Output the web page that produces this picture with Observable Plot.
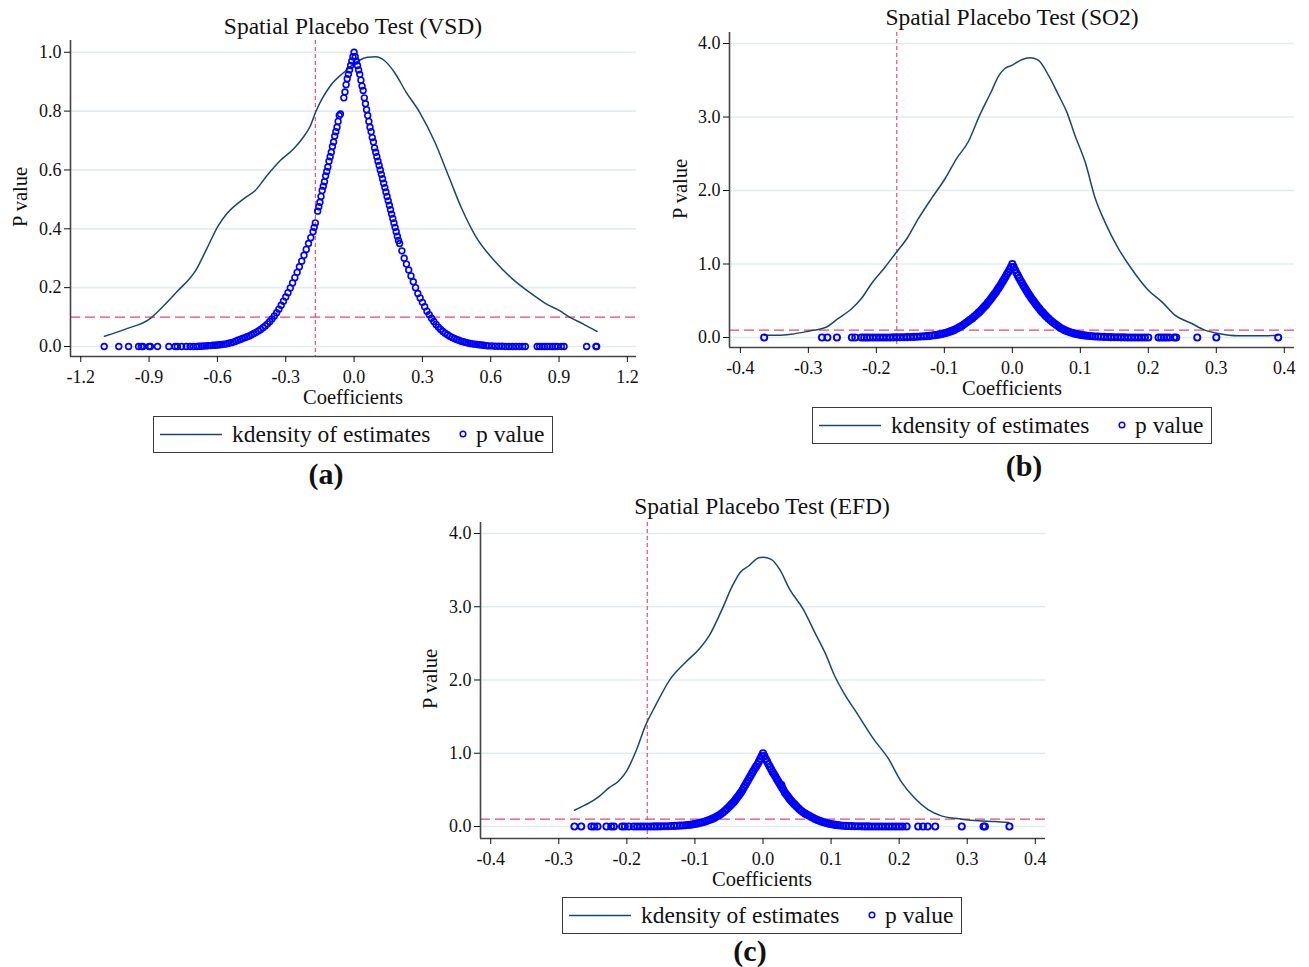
<!DOCTYPE html>
<html><head><meta charset="utf-8">
<script src="https://cdn.jsdelivr.net/npm/d3@7"></script>
<script src="https://cdn.jsdelivr.net/npm/@observablehq/plot@0.6"></script>
<style>
body{margin:0;background:#fff;font-family:"Liberation Serif","Times New Roman",serif;color:#111;}
#page{position:relative;width:1309px;height:967px;overflow:hidden;background:#fff;}
.ctext{position:absolute;text-align:center;white-space:nowrap;width:600px;}
.rot{position:absolute;white-space:nowrap;transform:translate(-50%,-50%) rotate(-90deg);font-size:20.5px;line-height:21px;}
.legend{position:absolute;box-sizing:border-box;width:400px;height:37px;border:1.5px solid #3a3a3a;background:#fff;}
.legend span{position:absolute;top:4px;font-size:23.5px;line-height:26px;white-space:nowrap;}
.legend svg{position:absolute;left:0;top:0;}
</style></head>
<body><div id="page"></div>
<script>
// ---------- data ----------
const titles = ["Spatial Placebo Test (VSD)", "Spatial Placebo Test (SO2)", "Spatial Placebo Test (EFD)"];
const captions = ["(a)", "(b)", "(c)"];
const legendLabels = ["kdensity of estimates", "p value"];
const xLabel = "Coefficients";
const yLabel = "P value";

const vsdTicksX = [-1.2, -0.9, -0.6, -0.3, 0, 0.3, 0.6, 0.9, 1.2];
const vsdTicksY = [0, 0.2, 0.4, 0.6, 0.8, 1.0];
const smallTicksX = [-0.4, -0.3, -0.2, -0.1, 0, 0.1, 0.2, 0.3, 0.4];
const smallTicksY = [0, 1, 2, 3, 4];
const pThreshold = [0.1];
const trueCoef = [-0.17];

const vsdDensity = [[-1.096,0.035],[-1.0,0.06],[-0.897,0.094],[-0.853,0.125],[-0.779,0.185],[-0.691,0.264],[-0.647,0.332],[-0.596,0.411],[-0.559,0.451],[-0.485,0.502],[-0.434,0.53],[-0.382,0.581],[-0.324,0.632],[-0.265,0.672],[-0.228,0.706],[-0.191,0.751],[-0.169,0.796],[-0.103,0.887],[-0.044,0.932],[-0.015,0.952],[0.022,0.972],[0.059,0.983],[0.096,0.985],[0.133,0.972],[0.177,0.932],[0.229,0.864],[0.288,0.796],[0.355,0.694],[0.414,0.581],[0.473,0.468],[0.532,0.377],[0.621,0.287],[0.695,0.23],[0.769,0.185],[0.843,0.145],[0.902,0.122],[0.946,0.10],[1.005,0.077],[1.067,0.051]];

const vsdPValues = [[-1.097,0],[-1.033,0],[-0.99,0],[-0.946,0],[-0.934,0],[-0.927,0],[-0.9,0],[-0.894,0],[-0.863,0],[-0.813,0],[-0.786,0],[-0.776,0],[-0.757,0],[-0.737,0],[-0.72,0],[-0.705,0],[-0.69,0],[-0.68,0.001],[-0.67,0.001],[-0.66,0.002],[-0.65,0.002],[-0.64,0.003],[-0.63,0.003],[-0.62,0.004],[-0.61,0.004],[-0.6,0.005],[-0.59,0.006],[-0.58,0.007],[-0.57,0.008],[-0.56,0.009],[-0.55,0.011],[-0.54,0.013],[-0.53,0.015],[-0.52,0.018],[-0.51,0.021],[-0.5,0.024],[-0.49,0.027],[-0.48,0.03],[-0.47,0.033],[-0.46,0.036],[-0.45,0.04],[-0.44,0.044],[-0.43,0.048],[-0.42,0.053],[-0.41,0.058],[-0.4,0.064],[-0.39,0.07],[-0.38,0.077],[-0.37,0.085],[-0.36,0.094],[-0.35,0.104],[-0.34,0.115],[-0.33,0.127],[-0.32,0.14],[-0.31,0.154],[-0.3,0.168],[-0.29,0.183],[-0.28,0.199],[-0.27,0.216],[-0.26,0.234],[-0.25,0.252],[-0.24,0.271],[-0.23,0.29],[-0.22,0.31],[-0.21,0.33],[-0.2,0.35],[-0.19,0.37],[-0.18,0.39],[-0.175,0.405],[-0.17,0.42],[-0.16,0.46],[-0.155,0.475],[-0.15,0.49],[-0.145,0.51],[-0.14,0.53],[-0.135,0.545],[-0.13,0.56],[-0.125,0.58],[-0.12,0.595],[-0.115,0.61],[-0.11,0.63],[-0.105,0.645],[-0.1,0.66],[-0.095,0.68],[-0.09,0.695],[-0.085,0.715],[-0.08,0.73],[-0.075,0.745],[-0.07,0.765],[-0.065,0.785],[-0.06,0.79],[-0.045,0.845],[-0.04,0.865],[-0.035,0.89],[-0.03,0.91],[-0.025,0.925],[-0.02,0.94],[-0.015,0.955],[-0.01,0.97],[-0.005,0.985],[0,1.0],
[0.005,0.985],[0.01,0.97],[0.015,0.955],[0.02,0.94],[0.025,0.925],[0.03,0.905],[0.035,0.885],[0.04,0.87],[0.045,0.845],[0.05,0.825],[0.055,0.805],[0.06,0.785],[0.065,0.765],[0.07,0.745],[0.075,0.73],[0.08,0.71],[0.085,0.695],[0.09,0.675],[0.095,0.66],[0.1,0.645],[0.105,0.63],[0.11,0.615],[0.115,0.6],[0.12,0.585],[0.125,0.57],[0.13,0.555],[0.135,0.54],[0.14,0.525],[0.145,0.51],[0.15,0.495],[0.155,0.48],[0.16,0.465],[0.165,0.45],[0.17,0.435],[0.175,0.42],[0.18,0.405],[0.185,0.39],[0.19,0.375],[0.195,0.36],[0.2,0.35],[0.21,0.325],[0.22,0.3],[0.23,0.28],[0.24,0.26],[0.25,0.24],[0.26,0.22],[0.27,0.2],[0.28,0.18],[0.29,0.165],[0.3,0.15],[0.31,0.135],[0.32,0.12],[0.33,0.108],[0.34,0.096],[0.35,0.085],[0.36,0.075],[0.37,0.066],[0.38,0.058],[0.39,0.051],[0.4,0.045],[0.41,0.04],[0.42,0.035],[0.43,0.031],[0.44,0.027],[0.45,0.024],[0.46,0.021],[0.47,0.018],[0.48,0.016],[0.49,0.014],[0.5,0.012],[0.51,0.01],[0.52,0.009],[0.53,0.008],[0.54,0.007],[0.55,0.006],[0.56,0.005],[0.57,0.004],[0.58,0.003],[0.59,0.002],[0.605,0.002],[0.62,0.001],[0.635,0.001],[0.65,0.001],[0.665,0],[0.68,0],[0.695,0],[0.71,0],[0.725,0],[0.74,0],[0.752,0],[0.804,0],[0.815,0],[0.826,0],[0.837,0],[0.848,0],[0.86,0],[0.871,0],[0.882,0],[0.893,0],[0.91,0],[0.922,0],[1.021,0],[1.062,0],[1.065,0]];

const so2Density = [[-0.365,0.03],[-0.344,0.03],[-0.325,0.045],[-0.3,0.086],[-0.275,0.136],[-0.256,0.26],[-0.236,0.395],[-0.222,0.53],[-0.207,0.735],[-0.187,0.96],[-0.17,1.166],[-0.155,1.347],[-0.138,1.62],[-0.119,1.89],[-0.099,2.16],[-0.082,2.435],[-0.065,2.66],[-0.048,3.025],[-0.03,3.365],[-0.021,3.546],[-0.011,3.66],[0,3.705],[0.0137,3.78],[0.026,3.805],[0.038,3.773],[0.053,3.57],[0.068,3.297],[0.08,3.07],[0.092,2.753],[0.107,2.39],[0.122,1.891],[0.136,1.574],[0.156,1.21],[0.175,0.939],[0.2,0.644],[0.22,0.485],[0.239,0.304],[0.264,0.19],[0.283,0.1],[0.303,0.054],[0.332,0.023],[0.362,0.023],[0.391,0.032]];

const so2PValues = [[-0.365,0],[-0.28,0],[-0.272,0],[-0.258,0],[-0.236,0],[-0.231,0],[-0.222,0],[-0.218,0],[-0.214,0],[-0.21,0],[-0.205,0],[-0.2,0],[-0.195,0],[-0.19,0.001],[-0.185,0.001],[-0.18,0.001],[-0.175,0.002],[-0.17,0.002],[-0.165,0.003],[-0.16,0.004],[-0.155,0.005],[-0.15,0.006],[-0.145,0.008],[-0.14,0.01],[-0.135,0.013],[-0.13,0.016],[-0.126,0.019],[-0.122,0.022],[-0.118,0.027],[-0.114,0.032],[-0.11,0.037],[-0.107,0.042],[-0.104,0.048],[-0.101,0.055],[-0.098,0.062],[-0.095,0.07],[-0.092,0.08],[-0.089,0.09],[-0.086,0.1],[-0.083,0.115],[-0.08,0.13],[-0.077,0.145],[-0.074,0.16],[-0.071,0.18],[-0.068,0.2],[-0.065,0.22],[-0.062,0.24],[-0.059,0.26],[-0.056,0.285],[-0.053,0.31],[-0.05,0.335],[-0.048,0.35],[-0.046,0.37],[-0.044,0.39],[-0.042,0.41],[-0.04,0.43],[-0.038,0.45],[-0.036,0.475],[-0.034,0.495],[-0.032,0.52],[-0.03,0.545],[-0.028,0.57],[-0.026,0.595],[-0.024,0.62],[-0.022,0.65],[-0.02,0.675],[-0.018,0.705],[-0.016,0.735],[-0.014,0.765],[-0.012,0.795],[-0.01,0.825],[-0.008,0.86],[-0.006,0.89],[-0.004,0.925],[-0.002,0.96],[0,1.0],
[0.002,0.96],[0.004,0.92],[0.006,0.88],[0.008,0.845],[0.01,0.81],[0.012,0.775],[0.014,0.745],[0.016,0.71],[0.018,0.68],[0.02,0.65],[0.022,0.62],[0.024,0.59],[0.026,0.565],[0.028,0.535],[0.03,0.51],[0.032,0.485],[0.034,0.46],[0.036,0.435],[0.038,0.41],[0.04,0.39],[0.042,0.365],[0.044,0.345],[0.046,0.325],[0.048,0.305],[0.05,0.285],[0.053,0.26],[0.056,0.235],[0.059,0.21],[0.062,0.19],[0.065,0.17],[0.068,0.15],[0.071,0.13],[0.074,0.115],[0.077,0.1],[0.08,0.088],[0.083,0.078],[0.086,0.068],[0.089,0.06],[0.092,0.052],[0.095,0.046],[0.098,0.04],[0.101,0.035],[0.104,0.031],[0.107,0.027],[0.11,0.024],[0.114,0.02],[0.118,0.017],[0.122,0.014],[0.126,0.012],[0.13,0.01],[0.135,0.008],[0.14,0.006],[0.145,0.005],[0.15,0.004],[0.155,0.003],[0.16,0.002],[0.165,0.002],[0.17,0.001],[0.175,0.001],[0.18,0.001],[0.185,0],[0.19,0],[0.195,0],[0.2,0],[0.215,0],[0.219,0],[0.223,0],[0.227,0],[0.231,0],[0.238,0],[0.241,0],[0.272,0],[0.3,0],[0.391,0]];

const efdDensity = [[-0.277,0.222],[-0.261,0.294],[-0.241,0.408],[-0.226,0.53],[-0.212,0.62],[-0.1995,0.77],[-0.187,1.02],[-0.1725,1.38],[-0.158,1.65],[-0.136,2.016],[-0.114,2.24],[-0.094,2.42],[-0.079,2.605],[-0.06,2.967],[-0.045,3.284],[-0.033,3.475],[-0.021,3.556],[-0.006,3.67],[0,3.674],[0.012,3.647],[0.0245,3.51],[0.039,3.24],[0.059,2.967],[0.076,2.65],[0.093,2.333],[0.105,2.061],[0.118,1.835],[0.14,1.518],[0.162,1.2],[0.184,0.929],[0.203,0.612],[0.223,0.385],[0.243,0.226],[0.262,0.145],[0.292,0.1],[0.316,0.077],[0.341,0.068],[0.361,0.054]];

const efdPValues = [[-0.277,0],[-0.267,0],[-0.252,0],[-0.248,0],[-0.243,0],[-0.23,0],[-0.223,0],[-0.219,0],[-0.207,0],[-0.203,0],[-0.197,0],[-0.19,0],[-0.185,0],[-0.18,0],[-0.175,0],[-0.17,0],[-0.165,0],[-0.16,0.001],[-0.155,0.001],[-0.15,0.002],[-0.145,0.003],[-0.14,0.004],[-0.135,0.006],[-0.13,0.008],[-0.126,0.01],[-0.122,0.012],[-0.118,0.014],[-0.114,0.017],[-0.11,0.021],[-0.107,0.024],[-0.104,0.028],[-0.101,0.033],[-0.098,0.038],[-0.095,0.044],[-0.092,0.05],[-0.089,0.057],[-0.086,0.065],[-0.083,0.075],[-0.08,0.085],[-0.077,0.095],[-0.074,0.107],[-0.071,0.12],[-0.068,0.135],[-0.065,0.15],[-0.062,0.17],[-0.059,0.19],[-0.056,0.215],[-0.053,0.24],[-0.05,0.265],[-0.048,0.285],[-0.046,0.305],[-0.044,0.325],[-0.042,0.345],[-0.04,0.37],[-0.038,0.395],[-0.036,0.42],[-0.034,0.445],[-0.032,0.47],[-0.03,0.5],[-0.028,0.535],[-0.026,0.565],[-0.024,0.6],[-0.022,0.63],[-0.02,0.665],[-0.018,0.695],[-0.016,0.73],[-0.014,0.76],[-0.012,0.79],[-0.01,0.82],[-0.008,0.85],[-0.006,0.885],[-0.004,0.925],[-0.002,0.96],[0,1.0],
[0.002,0.96],[0.004,0.92],[0.006,0.885],[0.008,0.85],[0.01,0.815],[0.012,0.78],[0.014,0.745],[0.016,0.715],[0.018,0.685],[0.02,0.65],[0.022,0.62],[0.024,0.59],[0.026,0.56],[0.027,0.566],[0.028,0.53],[0.03,0.5],[0.032,0.465],[0.034,0.44],[0.036,0.415],[0.038,0.39],[0.04,0.365],[0.042,0.345],[0.044,0.325],[0.046,0.305],[0.048,0.285],[0.05,0.265],[0.053,0.24],[0.056,0.215],[0.059,0.195],[0.062,0.175],[0.065,0.16],[0.068,0.145],[0.071,0.13],[0.074,0.115],[0.077,0.1],[0.08,0.088],[0.083,0.077],[0.086,0.067],[0.089,0.058],[0.092,0.05],[0.095,0.043],[0.098,0.037],[0.101,0.031],[0.104,0.026],[0.107,0.022],[0.11,0.018],[0.114,0.014],[0.118,0.011],[0.122,0.008],[0.126,0.006],[0.13,0.005],[0.135,0.004],[0.14,0.003],[0.145,0.002],[0.15,0.001],[0.155,0.001],[0.16,0],[0.165,0],[0.17,0],[0.175,0],[0.18,0],[0.185,0],[0.19,0],[0.195,0],[0.2,0],[0.205,0],[0.211,0],[0.228,0],[0.235,0],[0.242,0],[0.253,0],[0.292,0],[0.324,0],[0.326,0],[0.362,0]];

// ---------- layout / drawing ----------
const page = document.getElementById("page");
const fmt = d => (Math.abs(d) < 1e-9 ? 0 : d).toFixed(1);
const navy = "#1a476f", blue = "#0000ff", dashRed = "#e04a6c";

function addText(txt, cx, cy, size, bold, lh) {
  const d = document.createElement("div");
  d.className = "ctext";
  d.textContent = txt;
  const lineH = size * (lh || 1.15);
  d.style.left = (cx - 300) + "px";
  d.style.top = (cy - lineH / 2) + "px";
  d.style.fontSize = size + "px";
  d.style.lineHeight = lineH + "px";
  if (bold) d.style.fontWeight = "bold";
  page.appendChild(d);
}
function addRot(txt, cx, cy) {
  const d = document.createElement("div");
  d.className = "rot";
  d.textContent = txt;
  d.style.left = cx + "px";
  d.style.top = cy + "px";
  page.appendChild(d);
}
function addLegend(left, top) {
  const lg = document.createElement("div");
  lg.className = "legend";
  lg.style.left = left + "px";
  lg.style.top = top + "px";
  lg.innerHTML =
    `<svg width="400" height="37"><line x1="6" x2="68" y1="17.5" y2="17.5" stroke="${navy}" stroke-width="1.6"/>` +
    `<circle cx="309" cy="17" r="2.8" fill="none" stroke="${blue}" stroke-width="1.5"/></svg>` +
    `<span style="left:78px">${legendLabels[0]}</span><span style="left:322px">${legendLabels[1]}</span>`;
  page.appendChild(lg);
}

function panel(cfg) {
  const chart = Plot.plot({
    width: cfg.w, height: cfg.h,
    marginLeft: cfg.ml, marginRight: cfg.mr, marginTop: cfg.mt, marginBottom: cfg.mb,
    style: {fontFamily: '"Liberation Serif","Times New Roman",serif', fontSize: "18px", color: "#111", background: "transparent", overflow: "visible"},
    x: {domain: cfg.xDomain},
    y: {domain: cfg.yDomain},
    marks: [
      Plot.gridY(cfg.yTicks, {stroke: "#e2ecef", strokeOpacity: 1, strokeWidth: 1.7}),
      Plot.ruleY(pThreshold, {stroke: dashRed, strokeWidth: 1.3, strokeDasharray: "10,5"}),
      Plot.ruleX(trueCoef, {stroke: "#ea4d74", strokeWidth: 1.2, strokeDasharray: "4,3"}),
      Plot.line(cfg.density, {x: d => d[0], y: d => d[1], stroke: navy, strokeWidth: 1.5, curve: "monotone-x"}),
      Plot.dot(cfg.points, {x: d => d[0], y: d => d[1], r: cfg.r, stroke: blue, strokeWidth: cfg.sw, fill: "none"}),
      Plot.ruleX([cfg.xDomain[0]], {stroke: "#444", strokeWidth: 1.6}),
      Plot.ruleY([cfg.yDomain[0]], {stroke: "#444", strokeWidth: 1.6}),
      Plot.axisX(cfg.xTicks, {tickSize: 6, tickPadding: 8, tickFormat: fmt, label: null, fontSize: 18}),
      Plot.axisY(cfg.yTicks, {tickSize: 6, tickPadding: 3, tickFormat: fmt, label: null, fontSize: 18})
    ]
  });
  chart.style.position = "absolute";
  chart.style.left = cfg.left + "px";
  chart.style.top = cfg.top + "px";
  page.appendChild(chart);
}

// (a) VSD
panel({left: 0, top: 30, w: 650, h: 370, ml: 70, mr: 14, mt: 10, mb: 44, r: 2.9, sw: 1.6,
  xDomain: [-1.245, 1.24], yDomain: [-0.034, 1.04], xTicks: vsdTicksX, yTicks: vsdTicksY,
  density: vsdDensity, points: vsdPValues});
// (b) SO2
panel({left: 660, top: 22, w: 649, h: 370, ml: 69, mr: 15, mt: 10, mb: 45, r: 3.1, sw: 1.9,
  xDomain: [-0.416, 0.415], yDomain: [-0.136, 4.15], xTicks: smallTicksX, yTicks: smallTicksY,
  density: so2Density, points: so2PValues});
// (c) EFD
panel({left: 410, top: 512, w: 650, h: 370, ml: 70, mr: 15, mt: 10, mb: 44, r: 3.1, sw: 1.9,
  xDomain: [-0.415, 0.415], yDomain: [-0.164, 4.15], xTicks: smallTicksX, yTicks: smallTicksY,
  density: efdDensity, points: efdPValues});

addText(titles[0], 353, 27, 23.5);
addText(titles[1], 1012, 18, 23.5);
addText(titles[2], 762, 507, 23.5);
addText(xLabel, 353, 397, 20.5, false, 1.0);
addText(xLabel, 1012, 388, 20.5, false, 1.0);
addText(xLabel, 762, 879, 20.5, false, 1.0);
addRot(yLabel, 20, 197);
addRot(yLabel, 680, 189);
addRot(yLabel, 430, 679);
addLegend(153, 416);
addLegend(812, 407);
addLegend(562, 897);
addText(captions[0], 326, 474, 30, true, 1.0);
addText(captions[1], 1024, 466, 30, true, 1.0);
addText(captions[2], 750, 951, 30, true, 1.0);
</script></body></html>
